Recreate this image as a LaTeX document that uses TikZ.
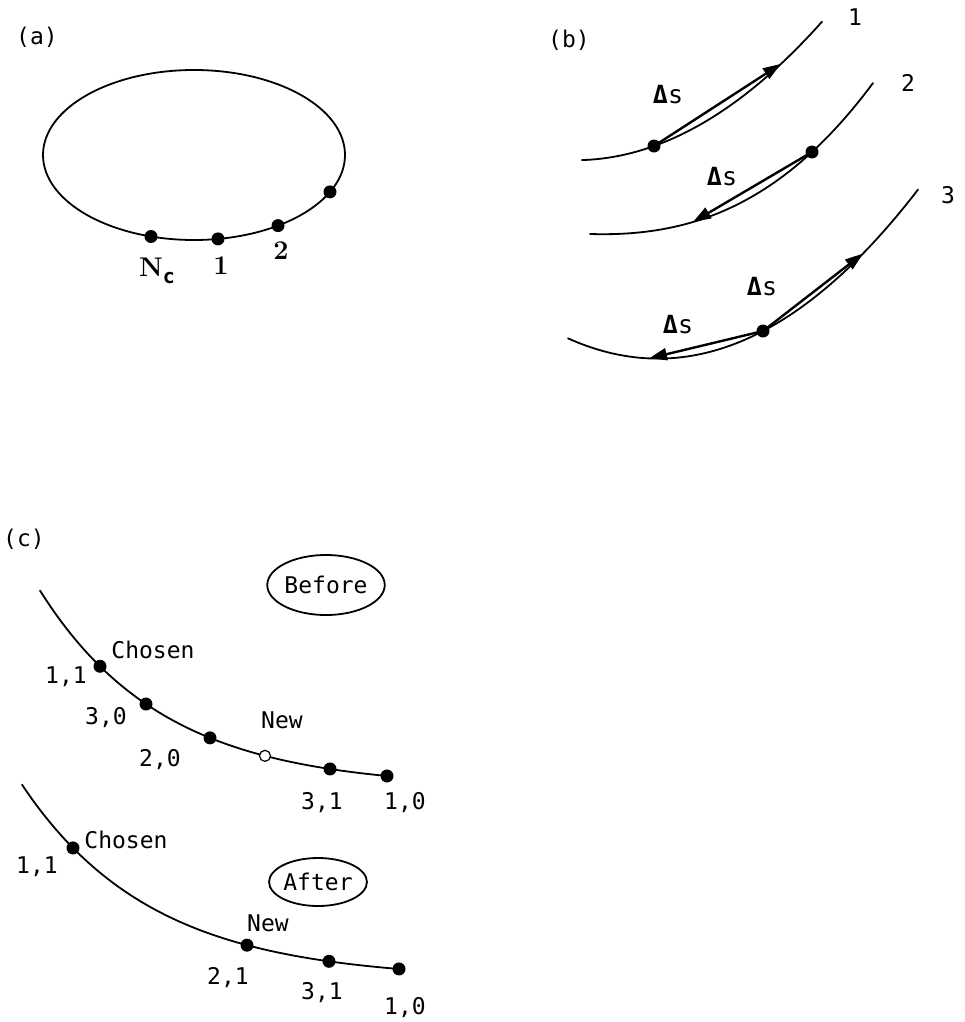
\documentclass[tikz,border=0pt]{standalone}
\usepackage{fontspec}
\newfontfamily\mono{DejaVu Sans Mono}
\usetikzlibrary{arrows.meta,shapes.geometric}

\begin{document}
\begin{tikzpicture}[x=1pt,y=-1pt,
  declare function={
    % contour pieces, y as a function of x (page units, y downwards)
    fa(\x)=160.2-22.7*((\x-575)/100)*((\x-575)/100);
    fb(\x)=234+3.0346*((\x-590)/100)-11.0135*((\x-590)/100)*((\x-590)/100)-3.1494*((\x-590)/100)*((\x-590)/100)*((\x-590)/100);
    fc(\x)=358.6-25*((\x-658)/100)*((\x-658)/100);
    fd(\x)=788-272.6*exp(-\x/124);
    fe(\x)=979.7-231*exp(-\x/130);
  },
  curve/.style={line width=1.8pt,line cap=round},
  dot/.style={circle,fill=black,inner sep=0pt,minimum size=13pt},
  opendot/.style={circle,draw=black,line width=1.2pt,fill=white,inner sep=0pt,minimum size=11pt},
  lbl/.style={font=\mono\fontsize{23}{27}\selectfont,inner sep=0pt},
  num/.style={font=\bfseries\fontsize{27}{30}\selectfont,inner sep=0pt},
  dslbl/.style={font=\mono\fontsize{25}{29}\selectfont,inner sep=0pt},
  dsarrow/.style={line width=2.4pt,-{Triangle[length=18pt,width=12pt]}},
  phase/.style={lbl,draw,ellipse,line width=1.8pt,inner sep=0pt}
]
\useasboundingbox (0,0) rectangle (964,1022);

% ---------------- (a) closed contour with numbered points
\node[lbl] (ta) at (37,37) {(a)};
\draw[curve] (194,155) ellipse [x radius=151pt, y radius=85pt];
\node[dot] (aNc) at (151,236.5) {};
\node[dot] (a1)  at (218,238.9) {};
\node[dot] (a2)  at (278,225.6) {};
\node[dot] (a3)  at (330,191.9) {};
\node[num,anchor=base] (lNc) at (157,276) {N\raisebox{-7pt}{\mono\fontsize{20}{22}\selectfont c}};
\node[num,anchor=base] (l1) at (221,274) {1};
\node[num,anchor=base] (l2) at (281,259) {2};

% ---------------- (b) steps of length Delta s along the contour
\node[lbl] (tb) at (569,40) {(b)};

% curve 1: one step forward
\draw[curve] plot[domain=582:822,samples=80] (\x,{fa(\x)});
\coordinate (b1t) at (781,{fa(781)});
\node[dot] (b1dot) at (654,{fa(654)}) {};
\draw[dsarrow] (b1dot.center) -- (b1t);
\node[dslbl] (b1ds) at (668,95) {{\bfseries Δ}s};
\node[lbl] (b1n) at (855,17) {1};

% curve 2: one step backward
\draw[curve] plot[domain=590:873,samples=80] (\x,{fb(\x)});
\coordinate (b2t) at (693,{fb(693)});
\node[dot] (b2dot) at (812,{fb(812)}) {};
\draw[dsarrow] (b2dot.center) -- (b2t);
\node[dslbl] (b2ds) at (722,177) {{\bfseries Δ}s};
\node[lbl] (b2n) at (908,83) {2};

% curve 3: steps both ways
\draw[curve] plot[domain=568:918,samples=80] (\x,{fc(\x)});
\coordinate (b3u) at (863,{fc(863)});
\coordinate (b3d) at (649,{fc(649)});
\node[dot] (b3dot) at (763,{fc(763)}) {};
\draw[dsarrow] (b3dot.center) -- (b3u);
\draw[dsarrow] (b3dot.center) -- (b3d);
\node[dslbl] (b3ds1) at (762,287) {{\bfseries Δ}s};
\node[dslbl] (b3ds2) at (678,325) {{\bfseries Δ}s};
\node[lbl] (b3n) at (948,195) {3};

% ---------------- (c) inserting a new point
\node[lbl] (tc) at (24,539) {(c)};

% before
\node[phase,minimum width=112pt,minimum height=60pt] (before) at (326,585) {Before};
\draw[curve] plot[domain=40:387,samples=80] (\x,{fd(\x)});
\node[dot] (c1A) at (100,{fd(100)}) {};
\node[dot] (c1B) at (146,{fd(146)}) {};
\node[dot] (c1C) at (210,{fd(210)}) {};
\node[opendot] (c1N) at (265,{fd(265)}) {};
\node[dot] (c1D) at (330,{fd(330)}) {};
\node[dot] (c1E) at (387,{fd(387)}) {};
\node[lbl] (c1chosen) at (153,650) {Chosen};
\node[lbl] (c1l11) at (66,677) {1,1};
\node[lbl] (c1l30) at (106,718) {3,0};
\node[lbl] (c1new) at (282,720) {New};
\node[lbl] (c1l20) at (160,760) {2,0};
\node[lbl] (c1l31) at (322,803) {3,1};
\node[lbl] (c1l10) at (405,803) {1,0};

% after
\node[phase,minimum width=90pt,minimum height=48pt] (after) at (318,882) {After};
\draw[curve] plot[domain=22:399,samples=80] (\x,{fe(\x)});
\node[dot] (c2A) at (73,{fe(73)}) {};
\node[dot] (c2N) at (247,{fe(247)}) {};
\node[dot] (c2D) at (329,{fe(329)}) {};
\node[dot] (c2E) at (399,{fe(399)}) {};
\node[lbl] (c2chosen) at (126,840) {Chosen};
\node[lbl] (c2l11) at (37,867) {1,1};
\node[lbl] (c2new) at (268,923) {New};
\node[lbl] (c2l21) at (228,978) {2,1};
\node[lbl] (c2l31) at (322,993) {3,1};
\node[lbl] (c2l10) at (405,1008) {1,0};
\end{tikzpicture}
\end{document}
